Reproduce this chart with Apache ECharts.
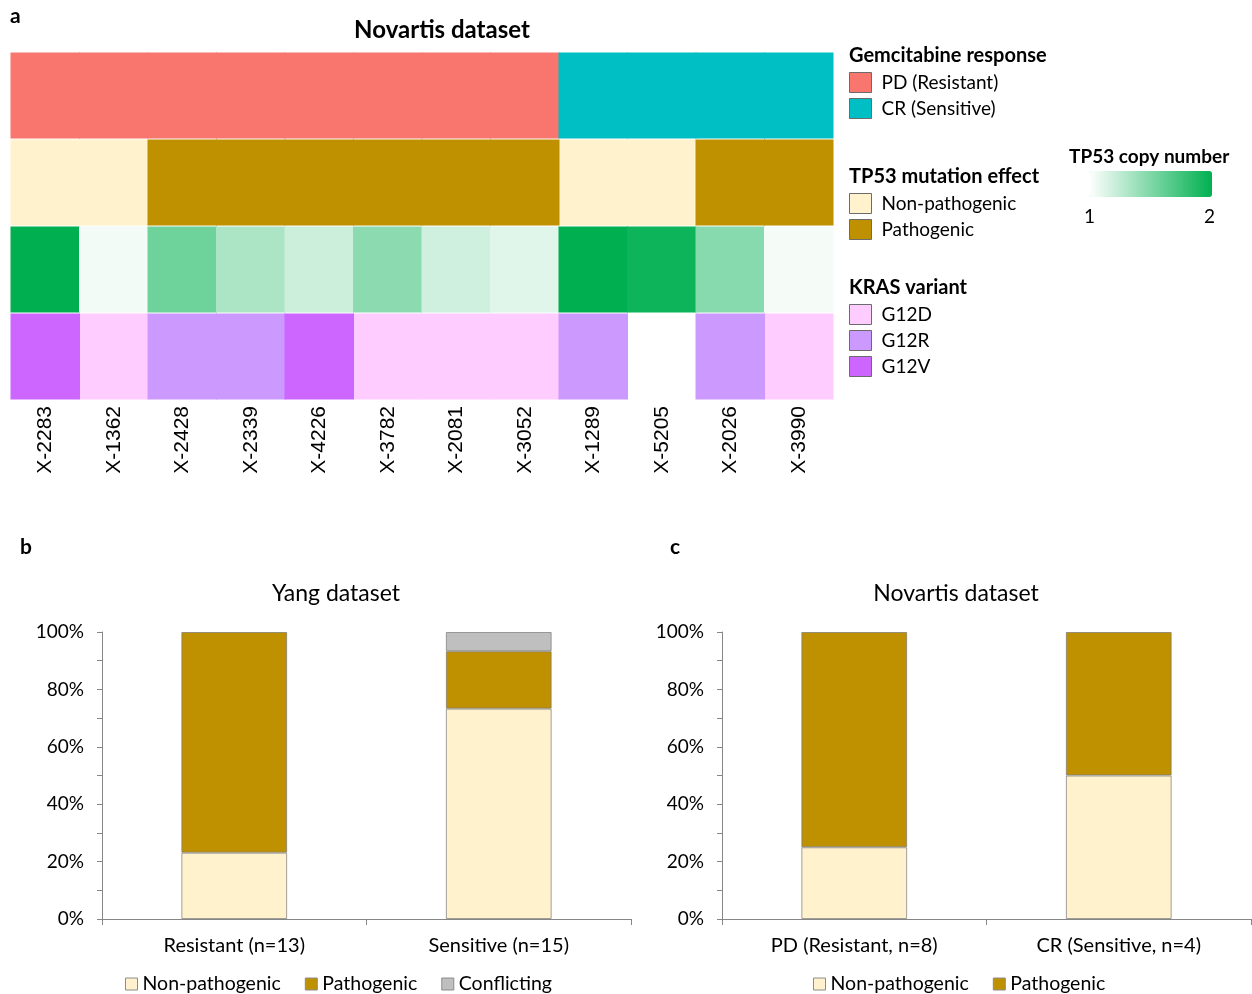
<!DOCTYPE html>
<html>
<head>
<meta charset="utf-8">
<script src="https://cdn.jsdelivr.net/npm/echarts@6/dist/echarts.min.js"></script>
<style>
html,body{margin:0;padding:0;background:#fff;}
#chart{width:1252px;height:994px;}
</style>
</head>
<body>
<div id="chart"></div>
<script>
// ---------- Panel a data ----------
const samples = ['X-2283','X-1362','X-2428','X-2339','X-4226','X-3782','X-2081','X-3052','X-1289','X-5205','X-2026','X-3990'];
const rows = ['response','effect','copy','kras'];
const response = ['PD (Resistant)','PD (Resistant)','PD (Resistant)','PD (Resistant)','PD (Resistant)','PD (Resistant)','PD (Resistant)','PD (Resistant)','CR (Sensitive)','CR (Sensitive)','CR (Sensitive)','CR (Sensitive)'];
const tp53Effect = ['Non-pathogenic','Non-pathogenic','Pathogenic','Pathogenic','Pathogenic','Pathogenic','Pathogenic','Pathogenic','Non-pathogenic','Non-pathogenic','Pathogenic','Pathogenic'];
const tp53Copy = [2.0, 1.05, 1.57, 1.33, 1.2, 1.45, 1.19, 1.12, 2.0, 1.95, 1.47, 1.04];
const kras = ['G12V','G12D','G12R','G12R','G12V','G12D','G12D','G12D','G12R',null,'G12R','G12D'];

const responseCats = ['PD (Resistant)','CR (Sensitive)'];
const effectCats = ['Non-pathogenic','Pathogenic'];
const krasCats = ['G12D','G12R','G12V'];

const colors = {
  'PD (Resistant)':'#F8766D','CR (Sensitive)':'#00BFC4',
  'Non-pathogenic':'#FFF2CC','Pathogenic':'#BF9000','Conflicting':'#BFBFBF',
  'G12D':'#FFCCFF','G12R':'#CC99FF','G12V':'#CC66FF'
};

// ---------- Panel b / c data ----------
const yangCats = ['Resistant (n=13)','Sensitive (n=15)'];
const yangNonPath = [23.1, 73.3];
const yangPath = [76.9, 20.0];
const yangConflict = [0, 6.7];

const novCats = ['PD (Resistant, n=8)','CR (Sensitive, n=4)'];
const novNonPath = [25, 50];
const novPath = [75, 50];

const FONT = 'Lato, "Open Sans", sans-serif';

function cellRender(params, api){
  const c = api.coord([api.value(0), api.value(1)]);
  const s = api.size([1,1]);
  return {
    type:'rect',
    shape:{x:c[0]-s[0]/2-0.5, y:c[1]-s[1]/2+0.5, width:s[0]+1, height:s[1]-1},
    style:{fill: api.visual('color')}
  };
}

function catSeries(rowName, values, cats){
  return cats.map(cat => ({
    type:'custom', name:cat, xAxisIndex:0, yAxisIndex:0,
    renderItem:cellRender, encode:{x:0,y:1},
    itemStyle:{color:colors[cat]},
    silent:true,
    data: samples.map((s,i)=> values[i]===cat ? [s,rowName] : null).filter(d=>d)
  }));
}

const series = [];
series.push(...catSeries('response', response, responseCats));
series.push(...catSeries('effect', tp53Effect, effectCats));
const copySeriesIndex = series.length;
series.push({
  type:'custom', name:'TP53 copy number', xAxisIndex:0, yAxisIndex:0,
  renderItem:cellRender, encode:{x:0,y:1}, silent:true,
  data: samples.map((s,i)=>[s,'copy',tp53Copy[i]])
});
series.push(...catSeries('kras', kras, krasCats));

const barBorder = {borderColor:'rgba(120,120,120,0.7)', borderWidth:1};
function barSeries(name, data, xi){
  return {type:'bar', name, stack:'s'+xi, xAxisIndex:xi, yAxisIndex:xi,
    data: data.map(v => v === 0 ? {value:0, itemStyle:{borderWidth:0, opacity:0}} : v),
    barWidth:'40%', itemStyle:Object.assign({color:colors[name]}, barBorder), silent:true};
}
series.push(barSeries('Non-pathogenic', yangNonPath, 1));
series.push(barSeries('Pathogenic', yangPath, 1));
series.push(barSeries('Conflicting', yangConflict, 1));
series.push(barSeries('Non-pathogenic', novNonPath, 2));
series.push(barSeries('Pathogenic', novPath, 2));

const axisGray = '#868686';
function pctY(gi){
  return {type:'value', gridIndex:gi, min:0, max:100, interval:10,
    axisLine:{show:true, lineStyle:{color:axisGray}},
    axisTick:{show:true, length:5, lineStyle:{color:axisGray}},
    splitLine:{show:false},
    axisLabel:{fontFamily:FONT, fontSize:19, color:'#000', margin:18,
      formatter:v => (v%20===0 ? v+'%' : '')}};
}
function catX(gi, data){
  return {type:'category', gridIndex:gi, data,
    axisLine:{show:true, lineStyle:{color:axisGray}},
    axisTick:{show:true, length:6, lineStyle:{color:axisGray}},
    axisLabel:{fontFamily:FONT, fontSize:20, color:'#000', margin:17}};
}

const legA = (data, top) => ({
  data, orient:'vertical', left:849, top, padding:0,
  itemWidth:22, itemHeight:20, itemGap:5, icon:'rect', selectedMode:false,
  itemStyle:{borderColor:'#6b6b6b', borderWidth:1},
  textStyle:{fontFamily:FONT, fontSize:19, color:'#000', padding:[0,0,0,5]}
});
const legB = (data, left) => ({
  data, orient:'horizontal', left, top:974, padding:0,
  itemWidth:12, itemHeight:12, itemGap:24, icon:'rect', selectedMode:false,
  itemStyle:{borderColor:'#8c8c8c', borderWidth:1},
  textStyle:{fontFamily:FONT, fontSize:19.5, color:'#000'}
});

const boldTitle = (text, left, top, size, extra) => Object.assign({
  text, left, top, padding:0,
  textStyle:{fontFamily:FONT, fontSize:size, fontWeight:'bold', color:'#000'}
}, extra||{});

const option = {
  animation:false,
  backgroundColor:'#fff',
  title:[
    boldTitle('a', 10, 6, 21),
    boldTitle('Novartis dataset', 442, 18, 24, {textAlign:'center'}),
    boldTitle('Gemcitabine response', 849, 46, 20),
    boldTitle('TP53 mutation effect', 849, 167, 20),
    boldTitle('KRAS variant', 849, 278, 20),
    boldTitle('TP53 copy number', 1069, 147, 19),
    boldTitle('b', 20, 537, 21),
    boldTitle('c', 670, 537, 21),
    {text:'Yang dataset', left:336, top:582, textAlign:'center', padding:0,
      textStyle:{fontFamily:FONT, fontSize:23, fontWeight:'normal', color:'#000'}},
    {text:'Novartis dataset', left:956, top:582, textAlign:'center', padding:0,
      textStyle:{fontFamily:FONT, fontSize:23, fontWeight:'normal', color:'#000'}}
  ],
  legend:[
    legA(responseCats, 72),
    legA(effectCats, 193),
    legA(krasCats, 304),
    legB(['Non-pathogenic','Pathogenic','Conflicting'], 125),
    legB(['Non-pathogenic','Pathogenic'], 813)
  ],
  visualMap:{
    type:'continuous', seriesIndex:copySeriesIndex, dimension:2,
    min:1, max:2, orient:'horizontal', left:1089, top:171,
    itemWidth:26, itemHeight:123, padding:0, calculable:false, hoverLink:false,
    realtime:false, text:null, showLabel:false,
    inRange:{color:['#ffffff','#00b050']}
  },
  graphic:[
    {type:'text', left:1084, top:207, style:{text:'1', font:'19px '+FONT, fill:'#000'}},
    {type:'text', left:1204, top:207, style:{text:'2', font:'19px '+FONT, fill:'#000'}}
  ],
  grid:[
    {left:11, top:52, width:822, height:348},
    {left:102, top:632, width:529, height:287},
    {left:722, top:632, width:529, height:287}
  ],
  xAxis:[
    {type:'category', gridIndex:0, data:samples, position:'bottom',
      axisLine:{show:false}, axisTick:{show:false},
      axisLabel:{rotate:90, fontFamily:'"Liberation Sans", Arial, sans-serif', fontSize:21, color:'#000', margin:6}},
    catX(1, yangCats),
    catX(2, novCats)
  ],
  yAxis:[
    {type:'category', gridIndex:0, data:rows, inverse:true, show:false},
    pctY(1),
    pctY(2)
  ],
  series
};

const chart = echarts.init(document.getElementById('chart'), null, {renderer:'canvas'});
chart.setOption(option);
</script>
</body>
</html>
